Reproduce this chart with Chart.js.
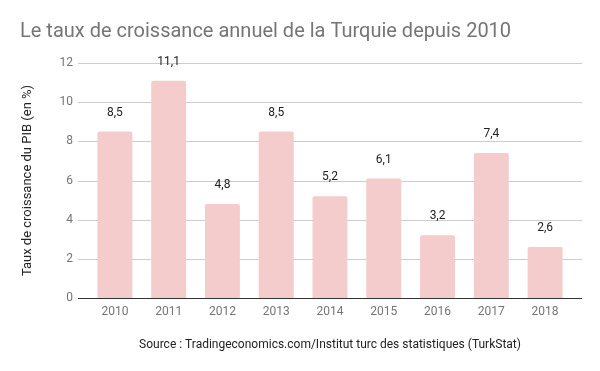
<!DOCTYPE html>
<html>
<head>
<meta charset="utf-8">
<script src="https://cdn.jsdelivr.net/npm/chart.js@4/dist/chart.umd.min.js"></script>
<style>
  html, body { margin: 0; padding: 0; background: #fff; }
  #wrap { width: 600px; height: 371px; }
</style>
</head>
<body>
<div id="wrap"><canvas id="growthChart"></canvas></div>
<script>
// Data
const years = ["2010", "2011", "2012", "2013", "2014", "2015", "2016", "2017", "2018"];
const growthRates = [8.5, 11.1, 4.8, 8.5, 5.2, 6.1, 3.2, 7.4, 2.6];
const yTicks = [0, 2, 4, 6, 8, 10, 12];

const FONT = "Roboto, 'Noto Sans', sans-serif";

// horizontal grid lines a bit wider than the plot area, baseline darker
const gridPlugin = {
  id: "wideGrid",
  beforeDatasetsDraw(chart) {
    const { ctx, chartArea, scales } = chart;
    ctx.save();
    ctx.strokeStyle = "#cccccc";
    ctx.lineWidth = 1;
    yTicks.forEach((t) => {
      if (t === 0) return;
      const y = Math.round(scales.y.getPixelForValue(t)) + 0.5;
      ctx.beginPath();
      ctx.moveTo(chartArea.left - 10, y);
      ctx.lineTo(chartArea.right + 10, y);
      ctx.stroke();
    });
    ctx.restore();
  },
  afterDatasetsDraw(chart) {
    const { ctx, chartArea, scales } = chart;
    ctx.save();
    ctx.strokeStyle = "#333333";
    ctx.lineWidth = 1;
    const y = Math.round(scales.y.getPixelForValue(0)) + 0.5;
    ctx.beginPath();
    ctx.moveTo(chartArea.left - 10, y);
    ctx.lineTo(chartArea.right + 10, y);
    ctx.stroke();

    // value labels above bars
    ctx.fillStyle = "#222222";
    ctx.font = "12px " + FONT;
    ctx.textAlign = "center";
    ctx.textBaseline = "middle";
    chart.getDatasetMeta(0).data.forEach((bar, i) => {
      const txt = String(growthRates[i]).replace(".", ",");
      ctx.fillText(txt, bar.x, bar.y - 19);
    });
    ctx.restore();
  },
};

new Chart(document.getElementById("growthChart"), {
  type: "bar",
  data: {
    labels: years,
    datasets: [
      {
        label: "Taux de croissance",
        data: growthRates,
        backgroundColor: "#f4cccc",
        borderRadius: { topLeft: 2, topRight: 2, bottomLeft: 0, bottomRight: 0 },
        borderSkipped: "bottom",
        categoryPercentage: 1,
        barPercentage: 0.65,
      },
    ],
  },
  options: {
    responsive: true,
    maintainAspectRatio: false,
    animation: false,
    layout: { padding: { left: 20, right: 28, top: 0, bottom: 15 } },
    plugins: {
      legend: { display: false },
      tooltip: { enabled: false },
      title: {
        display: true,
        text: "Le taux de croissance annuel de la Turquie depuis 2010",
        align: "start",
        color: "#757575",
        font: { family: FONT, size: 20, weight: "normal" },
        padding: { top: 20, bottom: 19 },
      },
    },
    scales: {
      x: {
        grid: { display: false, drawTicks: false },
        border: { display: false },
        ticks: { color: "#757575", font: { family: FONT, size: 12 }, padding: 7 },
        title: {
          display: true,
          text: "Source : Tradingeconomics.com/Institut turc des statistiques (TurkStat)",
          color: "#222222",
          font: { family: FONT, size: 12 },
          padding: { top: 0, bottom: 4 },
        },
        afterFit(scale) {
          scale.height = 58;
        },
      },
      y: {
        min: 0,
        max: 12,
        grid: { display: false, drawTicks: false },
        border: { display: false },
        ticks: {
          stepSize: 2,
          color: "#757575",
          font: { family: FONT, size: 12 },
          padding: 15,
        },
        title: {
          display: true,
          text: "Taux de croissance du PIB (en %)",
          color: "#222222",
          font: { family: FONT, size: 13 },
          padding: { top: 0, bottom: 0 },
        },
        afterFit(scale) {
          scale.width = 68;
        },
      },
    },
  },
  plugins: [gridPlugin],
});
</script>
</body>
</html>
